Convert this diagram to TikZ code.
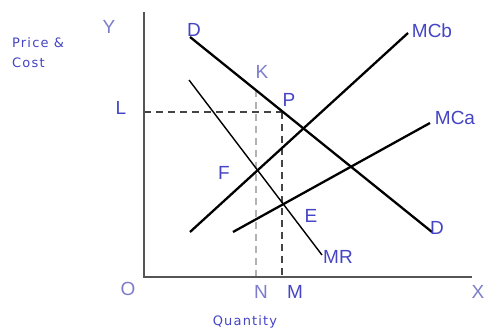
\documentclass[tikz,border=0pt]{standalone}
\usepackage{fontspec}
\setmainfont{Liberation Sans}
\newfontfamily\smallfont[LetterSpace=9]{DejaVu Sans}
\begin{document}
\begin{tikzpicture}[x=1pt,y=-1pt,
  lab/.style={text=labblue,inner sep=0pt,font=\fontsize{19}{19}\selectfont},
  palelab/.style={lab,text=labpale},
  smalllab/.style={text=labblue,inner sep=0pt,font=\smallfont\fontsize{13}{20}\selectfont},
  curve/.style={line width=2.3pt,black},
  thincurve/.style={line width=1.4pt,black},
  axis/.style={line width=1.8pt,axisgray},
  guide/.style={line width=1.1pt,dash pattern=on 7pt off 5pt},
]
\definecolor{labblue}{HTML}{4444C4}
\definecolor{labpale}{HTML}{7C7CCC}
\definecolor{axisgray}{HTML}{555555}
\useasboundingbox (0,0) rectangle (485,331);
% axis coordinates
\coordinate (ytop) at (144,12);
\coordinate (orig) at (144,277);
\coordinate (xend) at (472,277);
\coordinate (Laxis) at (144,112);
\coordinate (P) at (282,112);
\coordinate (Ktop) at (256,90);
\coordinate (Naxis) at (256,277);
\coordinate (Maxis) at (282,277);
% curve ends
\coordinate (D1) at (190,37);
\coordinate (D2) at (432,232);
\coordinate (MR1) at (189,80);
\coordinate (MR2) at (322,255);
\coordinate (MCb1) at (190,232);
\coordinate (MCb2) at (408,33);
\coordinate (MCa1) at (233,232);
\coordinate (MCa2) at (430,123);
% guides
\draw[guide,axisgray!80!black] (Laxis) -- (P);
\draw[guide,gray!60] (Ktop) -- (Naxis);
\draw[guide,axisgray!80!black] (P) -- (Maxis);
% axes
\draw[axis] (ytop) -- (orig) -- (xend);
% curves
\draw[curve] (D1) -- (D2);
\draw[thincurve] (MR1) -- (MR2);
\draw[curve] (MCb1) -- (MCb2);
\draw[curve] (MCa1) -- (MCa2);
% labels
\node[palelab] (lY) at (109,27) {Y};
\node[lab] (lD1) at (194,30) {D};
\node[lab] (lMCb) at (432,31) {MCb};
\node[palelab] (lK) at (262,72) {K};
\node[lab] (lP) at (289,100) {P};
\node[lab] (lL) at (121,108) {L};
\node[lab] (lMCa) at (455,118) {MCa};
\node[lab] (lF) at (224,173) {F};
\node[lab] (lE) at (311,216) {E};
\node[lab] (lD2) at (437,228) {D};
\node[lab] (lMR) at (338,257) {MR};
\node[palelab] (lO) at (128,289) {O};
\node[palelab] (lN) at (261,292) {N};
\node[lab] (lM) at (295,292) {M};
\node[palelab] (lX) at (478,292) {X};
\node[smalllab] (lQ) at (245,322) {Quantity};
\node[smalllab,anchor=west,align=left] (lPC) at (12,53) {Price \&\\Cost};
\end{tikzpicture}
\end{document}
